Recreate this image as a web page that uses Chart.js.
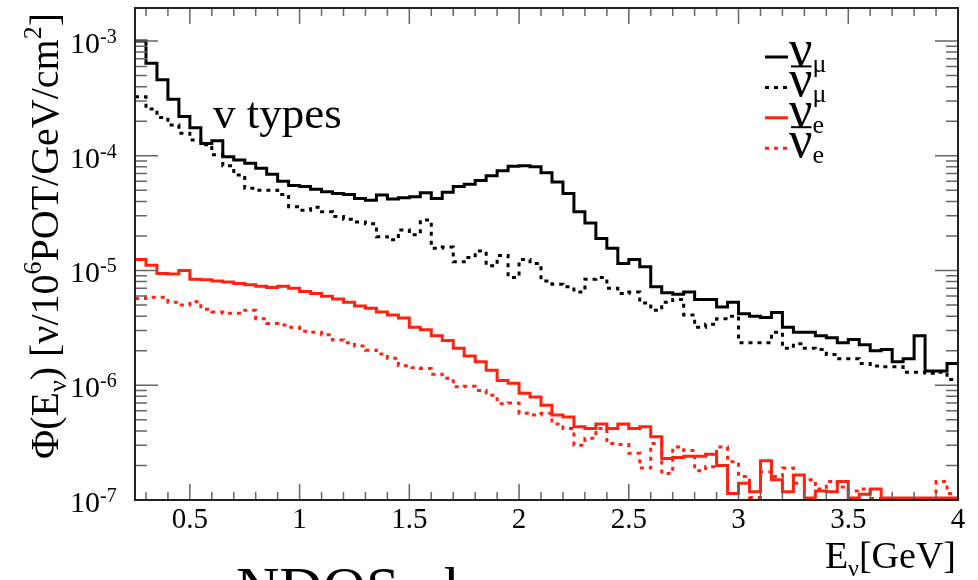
<!DOCTYPE html>
<html><head><meta charset="utf-8">
<script src="https://cdn.jsdelivr.net/npm/chart.js@4.4.1/dist/chart.umd.min.js"></script>
<style>html,body{margin:0;padding:0;background:#fff;}canvas{display:block;}</style>
</head><body>
<canvas id="c" width="978" height="580"></canvas>
<script>
// ---- data ----
const binEdges = [0.25,0.3,0.35,0.4,0.45,0.5,0.55,0.6,0.65,0.7,0.75,0.8,0.85,0.9,0.95,1,1.05,1.1,1.15,1.2,
  1.25,1.3,1.35,1.4,1.45,1.5,1.55,1.6,1.65,1.7,1.75,1.8,1.85,1.9,1.95,2,2.05,2.1,2.15,2.2,
  2.25,2.3,2.35,2.4,2.45,2.5,2.55,2.6,2.65,2.7,2.75,2.8,2.85,2.9,2.95,3,3.05,3.1,3.15,3.2,
  3.25,3.3,3.35,3.4,3.45,3.5,3.55,3.6,3.65,3.7,3.75,3.8,3.85,3.9,3.95,4];

const numuFlux = [1.0e-3,6.4e-4,4.6e-4,3.1e-4,2.2e-4,1.75e-4,1.28e-4,1.35e-4,9.8e-5,9.2e-5,
  8.6e-5,7.8e-5,6.9e-5,6.0e-5,5.5e-5,5.4e-5,5.1e-5,4.85e-5,4.7e-5,4.6e-5,
  4.25e-5,4.1e-5,4.55e-5,4.2e-5,4.3e-5,4.4e-5,4.75e-5,4.25e-5,4.8e-5,5.4e-5,
  5.65e-5,6.1e-5,6.7e-5,7.4e-5,8.1e-5,8.2e-5,8.0e-5,7.1e-5,5.9e-5,4.7e-5,
  3.25e-5,2.6e-5,1.9e-5,1.56e-5,1.15e-5,1.25e-5,1.08e-5,7.2e-6,6.4e-6,6.2e-6,
  6.5e-6,5.6e-6,5.6e-6,4.8e-6,5.3e-6,4.2e-6,4.0e-6,3.9e-6,4.3e-6,3.2e-6,
  2.9e-6,2.9e-6,2.7e-6,2.6e-6,2.35e-6,2.5e-6,2.25e-6,2.0e-6,2.05e-6,1.6e-6,
  1.7e-6,2.7e-6,1.33e-6,1.33e-6,1.55e-6];

const numubarFlux = [3.27e-4,2.55e-4,2.15e-4,1.85e-4,1.57e-4,1.37e-4,1.25e-4,1.02e-4,8.2e-5,6.8e-5,
  5.2e-5,5.0e-5,5.0e-5,4.6e-5,3.6e-5,3.35e-5,3.55e-5,3.25e-5,2.95e-5,2.8e-5,
  2.65e-5,2.55e-5,1.97e-5,1.85e-5,2.25e-5,2.05e-5,2.75e-5,1.56e-5,1.6e-5,1.19e-5,
  1.3e-5,1.48e-5,1.1e-5,1.35e-5,8.7e-6,1.25e-5,1.15e-5,8.1e-6,7.6e-6,7.2e-6,
  6.5e-6,8.4e-6,8.7e-6,7.0e-6,6.3e-6,6.5e-6,5.2e-6,4.5e-6,5.3e-6,5.6e-6,
  4.1e-6,3.2e-6,3.4e-6,3.8e-6,4.0e-6,2.35e-6,2.35e-6,2.35e-6,2.9e-6,2.1e-6,
  2.3e-6,2.1e-6,2.05e-6,1.85e-6,1.7e-6,1.7e-6,1.55e-6,1.47e-6,1.45e-6,1.45e-6,
  1.3e-6,1.3e-6,1.27e-6,1.3e-6,1.12e-6];

const nueFlux = [1.25e-5,1.11e-5,9.4e-6,9.3e-6,1.0e-5,8.4e-6,8.3e-6,8.1e-6,7.95e-6,7.7e-6,
  7.5e-6,7.3e-6,7.1e-6,7.3e-6,7.0e-6,6.55e-6,6.3e-6,5.95e-6,5.65e-6,5.3e-6,
  4.9e-6,4.7e-6,4.35e-6,4.1e-6,3.85e-6,3.2e-6,3.05e-6,2.7e-6,2.45e-6,2.1e-6,
  1.8e-6,1.6e-6,1.35e-6,1.1e-6,1.04e-6,8.5e-7,7.9e-7,6.7e-7,5.5e-7,5.3e-7,
  4.35e-7,4.2e-7,4.6e-7,4.2e-7,4.6e-7,4.2e-7,4.35e-7,3.55e-7,2.3e-7,2.35e-7,
  2.4e-7,2.4e-7,2.5e-7,2.0e-7,1.14e-7,1.4e-7,1.18e-7,2.2e-7,1.5e-7,1.18e-7,
  1.65e-7,1.04e-7,1.2e-7,1.18e-7,1.45e-7,1.04e-7,1.12e-7,1.25e-7,1.04e-7,1.04e-7,
  1.04e-7,1.04e-7,1.04e-7,1.04e-7,1.04e-7];

const nuebarFlux = [5.7e-6,5.85e-6,5.85e-6,5.3e-6,5.0e-6,5.35e-6,4.6e-6,4.35e-6,4.25e-6,4.25e-6,
  4.5e-6,3.8e-6,3.45e-6,3.35e-6,3.2e-6,2.95e-6,2.9e-6,2.75e-6,2.48e-6,2.35e-6,
  2.2e-6,2.02e-6,1.87e-6,1.72e-6,1.48e-6,1.42e-6,1.4e-6,1.25e-6,1.15e-6,9.7e-7,
  9.8e-7,9.0e-7,8.2e-7,6.9e-7,7.0e-7,5.7e-7,5.5e-7,5.7e-7,4.6e-7,4.2e-7,
  3.0e-7,3.45e-7,4.2e-7,3.1e-7,3.05e-7,2.55e-7,1.9e-7,3.1e-7,1.7e-7,2.9e-7,
  2.7e-7,1.8e-7,1.95e-7,2.9e-7,2.15e-7,1.6e-7,1.05e-7,1.75e-7,1.6e-7,1.9e-7,
  1.4e-7,1.5e-7,1.25e-7,1.45e-7,1.3e-7,1.2e-7,1.25e-7,1.03e-7,1.02e-7,1.02e-7,
  1.02e-7,1.02e-7,1.02e-7,1.45e-7,1.14e-7];

const xTickValues = [0.5,1,1.5,2,2.5,3,3.5,4];
const xTickLabels = ['0.5','1','1.5','2','2.5','3','3.5','4'];
const yTickExponents = [-7,-6,-5,-4,-3];
const legendEntries = [
  {sym:'ν', sub:'μ', bar:false},
  {sym:'ν', sub:'μ', bar:true},
  {sym:'ν', sub:'e', bar:false},
  {sym:'ν', sub:'e', bar:true}
];
const annotationText = 'v types';
const yTitle = [{t:'Φ(E',s:40},{t:'ν',s:26,dy:8},{t:') [ν/10',s:40},{t:'6',s:26,dy:-17},{t:'POT/GeV/cm',s:40},{t:'2',s:26,dy:-17},{t:']',s:40}];
const xTitle = [{t:'E',s:38},{t:'ν',s:24,dy:8},{t:'[GeV]',s:38}];
const footerText = 'NDOS ph';

// ---- helpers ----
const SERIF = "'Liberation Serif','Times New Roman','DejaVu Serif',serif";
const RED = '#ff2211';
function fnt(sz){return sz+'px '+SERIF;}
function toHist(vals){
  const pts = vals.map((v,i)=>({x:binEdges[i], y:v}));
  pts.push({x:binEdges[binEdges.length-1], y:vals[vals.length-1]});
  return pts;
}
function drawRich(ctx, pieces, x, y, align){
  let w=0;
  pieces.forEach(p=>{ctx.font=fnt(p.s); p.w=ctx.measureText(p.t).width; w+=p.w;});
  let cx = align==='right' ? x-w : (align==='center' ? x-w/2 : x);
  ctx.textAlign='left'; ctx.textBaseline='alphabetic';
  pieces.forEach(p=>{ctx.font=fnt(p.s); ctx.fillText(p.t,cx,y+(p.dy||0)); cx+=p.w;});
}

const rootStyle = {
  id:'rootStyle',
  afterDatasetsDraw(chart){
    const ctx=chart.ctx, a=chart.chartArea, xs=chart.scales.x, ys=chart.scales.y;
    ctx.save();
    ctx.strokeStyle='#666'; ctx.lineWidth=1.5;
    ctx.beginPath();
    for(let k=3;k<=39;k++){
      const px=xs.getPixelForValue(k/10);
      const len=(k%5===0)?16:8;
      ctx.moveTo(px,a.bottom); ctx.lineTo(px,a.bottom-len);
      ctx.moveTo(px,a.top); ctx.lineTo(px,a.top+len);
    }
    for(let e=-7;e<=-3;e++){
      for(let m=1;m<=9;m++){
        const v=m*Math.pow(10,e);
        if(v>ys.max) break;
        const py=ys.getPixelForValue(v);
        const len=(m===1)?23:12;
        ctx.moveTo(a.left,py); ctx.lineTo(a.left+len,py);
        ctx.moveTo(a.right,py); ctx.lineTo(a.right-len,py);
      }
    }
    ctx.stroke();
    ctx.strokeStyle='#222'; ctx.lineWidth=2;
    ctx.strokeRect(a.left,a.top,a.width,a.height);
    ctx.restore();
  },
  afterDraw(chart){
    const ctx=chart.ctx, a=chart.chartArea, ys=chart.scales.y;
    ctx.save();
    ctx.fillStyle='#000';
    // y tick labels 10^n
    yTickExponents.forEach(e=>{
      const py=ys.getPixelForValue(Math.pow(10,e));
      ctx.font=fnt(30); ctx.textAlign='right'; ctx.textBaseline='alphabetic';
      ctx.fillText('10',100,py+12);
      ctx.font=fnt(20); ctx.textAlign='left';
      ctx.fillText('-'+Math.abs(e),100,py+2);
    });
    // y title
    ctx.save();
    ctx.translate(58,236); ctx.rotate(-Math.PI/2);
    drawRich(ctx,yTitle,0,0,'center');
    ctx.restore();
    // x title
    drawRich(ctx,xTitle,956,568,'right');
    // annotation
    ctx.font=fnt(45); ctx.textAlign='left'; ctx.textBaseline='alphabetic';
    ctx.fillText(annotationText,213,128);
    // legend
    const ds=chart.data.datasets;
    legendEntries.forEach((en,i)=>{
      const sy=57+i*30.4;
      const d=ds[i];
      ctx.save();
      ctx.strokeStyle=d.borderColor; ctx.lineWidth=d.borderWidth;
      ctx.setLineDash(d.borderDash||[]);
      ctx.beginPath(); ctx.moveTo(765,sy); ctx.lineTo(788,sy); ctx.stroke();
      ctx.restore();
      ctx.fillStyle='#000';
      ctx.font=fnt(52); ctx.textAlign='left'; ctx.textBaseline='alphabetic';
      ctx.fillText(en.sym,789,sy+9);
      const w=ctx.measureText(en.sym).width;
      if(en.bar){
        ctx.save(); ctx.strokeStyle='#000'; ctx.lineWidth=2;
        ctx.beginPath(); ctx.moveTo(791,sy-21); ctx.lineTo(789+w-1,sy-21); ctx.stroke();
        ctx.restore();
      }
      ctx.font=fnt(26);
      ctx.fillText(en.sub,789+w,sy+15);
    });
    // footer (cropped)
    ctx.font=fnt(60); ctx.textAlign='left';
    ctx.fillText(footerText,236,608);
    ctx.restore();
  }
};

const ctx=document.getElementById('c').getContext('2d');
new Chart(ctx,{
  type:'line',
  data:{datasets:[
    {label:'numu', data:toHist(numuFlux), borderColor:'#000', borderWidth:3, stepped:true, pointRadius:0, fill:false},
    {label:'numubar', data:toHist(numubarFlux), borderColor:'#000', borderWidth:3, borderDash:[4,5], stepped:true, pointRadius:0, fill:false},
    {label:'nue', data:toHist(nueFlux), borderColor:RED, borderWidth:3, stepped:true, pointRadius:0, fill:false},
    {label:'nuebar', data:toHist(nuebarFlux), borderColor:RED, borderWidth:3, borderDash:[4,5], stepped:true, pointRadius:0, fill:false}
  ]},
  options:{
    responsive:false, animation:false, devicePixelRatio:1,
    layout:{padding:{top:8,right:20,left:0,bottom:0}},
    plugins:{legend:{display:false}, tooltip:{enabled:false}},
    scales:{
      x:{type:'linear', min:0.25, max:4,
        grid:{display:false, drawTicks:false}, border:{display:false},
        afterBuildTicks:(s)=>{s.ticks=xTickValues.map(v=>({value:v}));},
        afterFit:(s)=>{s.height=80;},
        ticks:{autoSkip:false, maxRotation:0, padding:3, color:'#000',
          font:{family:SERIF, size:29},
          callback:(v,i)=>xTickLabels[i]}
      },
      y:{type:'logarithmic', min:1e-7, max:1.939e-3,
        grid:{display:false, drawTicks:false}, border:{display:false},
        afterFit:(s)=>{s.width=135;},
        ticks:{display:false}
      }
    }
  },
  plugins:[rootStyle]
});
</script></body></html>
